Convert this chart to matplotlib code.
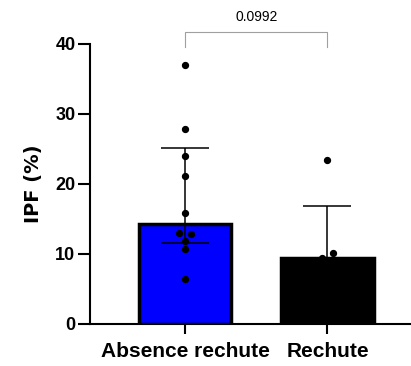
import matplotlib.pyplot as plt
import numpy as np

plt.rcParams["font.family"] = ["Liberation Sans", "DejaVu Sans"]

GROUPS = ["Absence rechute", "Rechute"]
BAR_HEIGHTS = [14.3, 9.4]
ERR_LOW = [11.6, 9.4]
ERR_HIGH = [25.1, 16.9]
BAR_COLORS = ["#0000ff", "#000000"]

ABSENCE_POINTS = [37.0, 27.9, 24.0, 21.1, 15.8, 13.0, 12.8, 11.8, 10.7, 6.4]
ABSENCE_OFFSETS = [0, 0, 0, 0, 0, -0.04, 0.04, 0, 0, 0]
RECHUTE_POINTS = [23.5, 10.1, 9.5]
RECHUTE_OFFSETS = [0, 0.04, -0.04]

P_VALUE = "0.0992"

fig = plt.figure(figsize=(4.11, 3.66), dpi=100)
ax = fig.add_axes([90 / 411, 42 / 366, 320 / 411, 280 / 366])

x = np.arange(len(GROUPS))
ax.bar(x, BAR_HEIGHTS, width=0.65, color=BAR_COLORS, edgecolor="black",
       linewidth=2.5, zorder=2)

for xi, h, lo, hi in zip(x, BAR_HEIGHTS, ERR_LOW, ERR_HIGH):
    ax.errorbar(xi, h, yerr=[[h - lo], [hi - h]], fmt="none", ecolor="black",
                elinewidth=1.1, capsize=17, capthick=1.1, zorder=3)

ax.scatter(x[0] + np.array(ABSENCE_OFFSETS), ABSENCE_POINTS, s=18,
           color="black", zorder=4)
ax.scatter(x[1] + np.array(RECHUTE_OFFSETS), RECHUTE_POINTS, s=18,
           color="black", zorder=4)

# significance bracket
ax.plot([0, 0, 1, 1], [39.6, 41.7, 41.7, 39.6], color="#a0a0a0",
        linewidth=0.8, clip_on=False)
ax.text(0.5, 43.9, P_VALUE, ha="center", va="center", fontsize=10,
        clip_on=False)

ax.set_xlim(-0.669, 1.58)
ax.set_ylim(0, 40)
ax.set_yticks([0, 10, 20, 30, 40])
ax.set_xticks(x)
ax.set_xticklabels(GROUPS, fontsize=15, fontweight="bold")
ax.tick_params(axis="y", labelsize=13, width=1.5, length=8.5, pad=2)
ax.tick_params(axis="x", width=1.5, length=7, pad=6)
for lbl in ax.get_yticklabels():
    lbl.set_fontweight("bold")
ax.set_ylabel("IPF (%)", fontsize=14, fontweight="bold", labelpad=9,
              family="DejaVu Sans")

for side in ["top", "right"]:
    ax.spines[side].set_visible(False)
for side in ["left", "bottom"]:
    ax.spines[side].set_linewidth(1.5)

fig.savefig("out.png", dpi=100)
